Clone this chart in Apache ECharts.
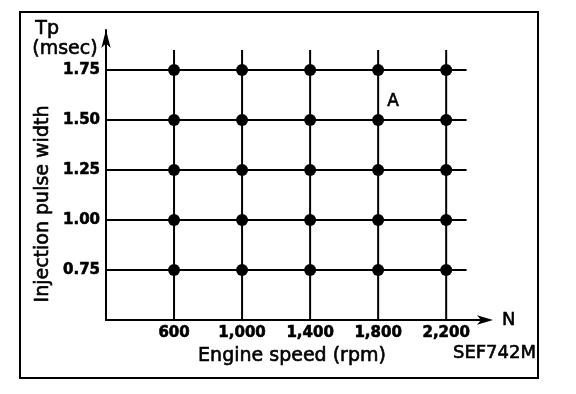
<!DOCTYPE html>
<html><head><meta charset="utf-8">
<script src="https://cdn.jsdelivr.net/npm/echarts@6/dist/echarts.min.js"></script>
<style>html,body{margin:0;padding:0;background:#fff}#c{width:576px;height:394px}</style>
</head><body><div id="c"></div>
<script>
const rpm = [600, 1000, 1400, 1800, 2200];
const tp = [0.75, 1.00, 1.25, 1.50, 1.75];
const xMin = 200, xMax = 2440, xLineEnd = 2320;
const yMin = 0.5, yMax = 1.95, yLineTop = 1.85;
const pointA = [1800, 1.50];

const F = '"DejaVu Sans", sans-serif';
const series = [];
tp.forEach(v => series.push({type:'line', data:[[xMin, v],[xLineEnd, v]], symbol:'none', lineStyle:{color:'#000', width:2}, silent:true}));
rpm.forEach(v => series.push({type:'line', data:[[v, yMin],[v, yLineTop]], symbol:'none', lineStyle:{color:'#000', width:2}, silent:true}));
const pts = [];
rpm.forEach(x => tp.forEach(y => pts.push([x, y])));
series.push({type:'scatter', data:pts, symbolSize:12, itemStyle:{color:'#000', opacity:1}});
series.push({type:'scatter', data:[pointA], symbolSize:1, itemStyle:{color:'#000', opacity:1},
  label:{show:true, formatter:'A', position:'inside', offset:[15,-18], color:'#000', fontFamily:F, fontSize:17,
    textBorderColor:'#000', textBorderWidth:0.6}});

const chart = echarts.init(document.getElementById('c'));
const ts = (size, extra) => Object.assign({font:size+'px '+F, fill:'#000', stroke:'#000', lineWidth:0.6}, extra||{});
chart.setOption({
  animation:false,
  backgroundColor:'#fff',
  grid:{left:106, right:89, top:30, bottom:74},
  xAxis:{type:'value', min:xMin, max:xMax, interval:400,
    axisLine:{lineStyle:{color:'#000', width:2}, symbol:['none','arrow'], symbolSize:[7,16], symbolOffset:[0,6]},
    axisTick:{show:false}, splitLine:{show:false},
    axisLabel:{showMinLabel:false, showMaxLabel:false, color:'#000', fontFamily:F, fontWeight:'bold', fontSize:15, margin:6,
      textBorderColor:'#000', textBorderWidth:0.6,
      formatter: v => v.toLocaleString('en-US')}},
  yAxis:{type:'value', min:yMin, max:yMax, interval:0.25,
    axisLine:{lineStyle:{color:'#000', width:2}, symbol:['none','arrow'], symbolSize:[7,18]},
    axisTick:{show:false}, splitLine:{show:false},
    axisLabel:{showMinLabel:false, showMaxLabel:false, color:'#000', fontFamily:F, fontWeight:'bold', fontSize:15, margin:6,
      textBorderColor:'#000', textBorderWidth:0.6,
      formatter: v => v.toFixed(2)}},
  series: series,
  graphic:[
    {type:'rect', shape:{x:20, y:12, width:518, height:366}, style:{fill:'none', stroke:'#000', lineWidth:2}},
    {type:'text', left:35, top:19, style:ts(19, {text:'Tp'})},
    {type:'text', left:32, top:39, style:ts(19, {text:'(msec)'})},
    {type:'text', x:502, y:311, style:ts(18, {text:'N'})},
    {type:'text', x:292, y:356, style:ts(19, {text:'Engine speed (rpm)', align:'center', verticalAlign:'middle'})},
    {type:'text', x:536, y:353, style:ts(18, {text:'SEF742M', align:'right', verticalAlign:'middle'})},
    {type:'text', x:43, y:204, rotation:Math.PI/2, style:ts(19, {text:'Injection pulse width', align:'center', verticalAlign:'middle'})}
  ]
});
</script></body></html>
